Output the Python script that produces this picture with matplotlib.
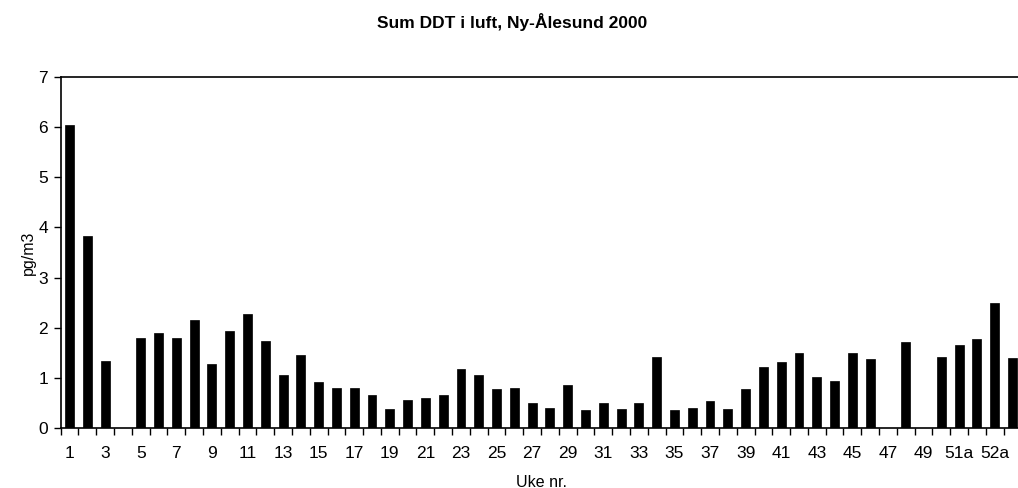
import matplotlib
matplotlib.use("Agg")
import matplotlib.pyplot as plt
import numpy as np

plt.rcParams['font.family'] = ['Liberation Sans', 'DejaVu Sans']

# Week labels (weeks 51 and 52 split into a/b samples)
weeks = [str(i) for i in range(1, 51)] + ["51a", "51b", "52a", "52b"]

# Sum DDT concentration in air (pg/m3); None = no sample
ddt = [6.04, 3.83, 1.33, None, 1.79, 1.89, 1.79, 2.15, 1.27, 1.93,
       2.27, 1.74, 1.05, 1.45, 0.91, 0.79, 0.79, 0.65, 0.37, 0.55,
       0.59, 0.65, 1.17, 1.06, 0.77, 0.79, 0.49, 0.40, 0.85, 0.35,
       0.49, 0.37, 0.49, 1.41, 0.35, 0.39, 0.53, 0.37, 0.77, 1.21,
       1.31, 1.49, 1.01, 0.93, 1.49, 1.37, None, 1.71, None, 1.41,
       1.65, 1.77, 2.50, 1.39]

title = "Sum DDT i luft, Ny-Ålesund 2000"
xlabel = "Uke nr."
ylabel = "pg/m3"

fig = plt.figure(figsize=(10.18, 4.88), dpi=100)
ax = fig.add_axes([0.0596, 0.1236, 0.9437, 0.718])

x = np.arange(len(weeks))
vals = np.array([np.nan if v is None else v for v in ddt])
ax.bar(x, vals, width=0.5, color="black", edgecolor="black", linewidth=0.5)

ax.set_xlim(-0.5, len(weeks) - 0.5)
ax.set_ylim(0, 7)
ax.set_yticks(range(0, 8))

# labels on every second category, ticks on category boundaries
ax.set_xticks(x[::2])
ax.set_xticklabels(weeks[::2])
ax.set_xticks(np.arange(-0.5, len(weeks), 1.0), minor=True)
ax.tick_params(axis="x", which="major", length=0, pad=13, labelsize=12.5)
ax.tick_params(axis="x", which="minor", length=5, width=1, direction="out")
ax.tick_params(axis="y", length=5, width=1, direction="out", labelsize=12.5, pad=4)

for s in ["left", "bottom", "top"]:
    ax.spines[s].set_linewidth(1.2)
ax.spines["right"].set_visible(False)

ax.set_xlabel(xlabel, fontsize=11.5)
ax.xaxis.set_label_coords(0.5, -0.134)
ax.set_ylabel(ylabel, fontsize=11.5, labelpad=2)
fig.text(0.503, 0.955, title, ha="center", va="center", fontsize=12.5, fontweight="bold")

fig.savefig("out.png", dpi=100)
